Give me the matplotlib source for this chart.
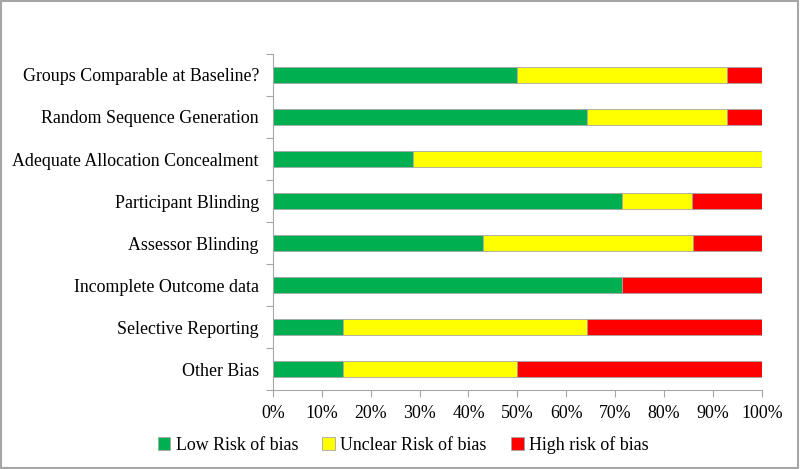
import matplotlib.pyplot as plt
from matplotlib.ticker import FixedLocator, PercentFormatter
import numpy as np

plt.rcParams['font.family'] = ['Liberation Serif', 'DejaVu Serif']

domains = ["Groups Comparable at Baseline?", "Random Sequence Generation",
           "Adequate Allocation Concealment", "Participant Blinding",
           "Assessor Blinding", "Incomplete Outcome data",
           "Selective Reporting", "Other Bias"]
low = [50.0, 64.3, 28.6, 71.4, 42.9, 71.4, 14.3, 14.3]
unclear = [42.9, 28.6, 71.4, 14.3, 42.9, 0.0, 50.0, 35.7]
high = [7.1, 7.1, 0.0, 14.3, 14.2, 28.6, 35.7, 50.0]
series = [("Low Risk of bias", low, "#00B050"),
          ("Unclear Risk of bias", unclear, "#FFFF00"),
          ("High risk of bias", high, "#FF0000")]

fig = plt.figure(figsize=(8, 4.69), dpi=100)
ax = fig.add_axes([0.341, 0.168, 0.6115, 0.717])
y = np.arange(len(domains))
left = np.zeros(len(domains))
for name, vals, col in series:
    ax.barh(y, vals, left=left, height=0.38, color=col, edgecolor="#a6a6a6",
            linewidth=0.6, label=name)
    left += np.array(vals)

ax.set_xlim(0, 100)
ax.set_ylim(len(domains) - 0.5, -0.5)
ax.set_xticks(np.arange(0, 101, 10))
ax.xaxis.set_major_formatter(PercentFormatter(decimals=0))
# category boundaries carry the tick marks, names sit in between
ax.yaxis.set_major_locator(FixedLocator(np.arange(-0.5, len(domains), 1)))
ax.yaxis.set_minor_locator(FixedLocator(y))
ax.set_yticklabels([])
ax.set_yticklabels(domains, minor=True)
ax.tick_params(axis="y", which="major", length=5, color="#a6a6a6")
ax.tick_params(axis="y", which="minor", length=0, pad=10, labelsize=12.9)
ax.tick_params(axis="x", length=5, color="#a6a6a6", labelsize=12.9, pad=6)
for s in ["top", "right"]:
    ax.spines[s].set_visible(False)
for s in ["left", "bottom"]:
    ax.spines[s].set_color("#a6a6a6")

fig.legend(loc="center", bbox_to_anchor=(0.504, 0.052), ncol=3, frameon=False,
           fontsize=12.9, handlelength=0.7, handleheight=0.7,
           handletextpad=0.3, columnspacing=1.35)

fig.patches.append(plt.Rectangle((0.001, 0.002), 0.997, 0.995, transform=fig.transFigure,
                                 fill=False, edgecolor="#a6a6a6", linewidth=1.5))
fig.savefig("out.png", dpi=100)
